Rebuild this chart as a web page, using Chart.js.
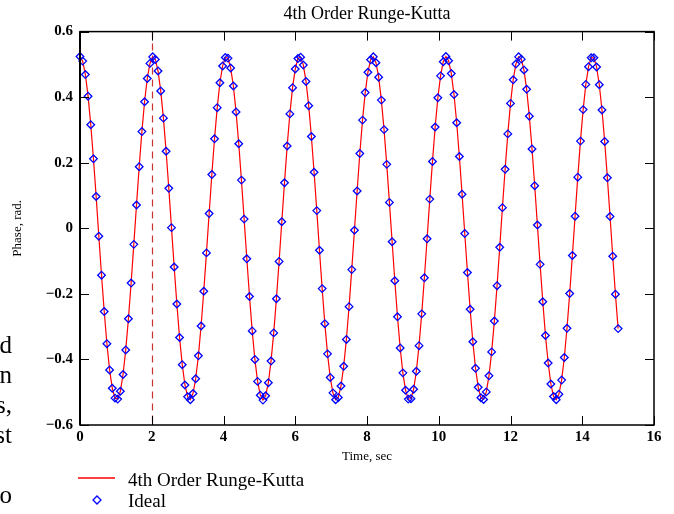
<!DOCTYPE html>
<html><head><meta charset="utf-8">
<script src="https://cdn.jsdelivr.net/npm/chart.js@4.4.1/dist/chart.umd.min.js"></script>
<style>
html,body{margin:0;padding:0;background:#fff;}
#wrap{position:relative;width:674px;height:514px;overflow:hidden;background:#fff;}
canvas{position:absolute;left:0;top:0;}
.frag{position:absolute;right:662px;top:330px;text-align:right;font:25px/30px 'Liberation Serif',serif;white-space:pre;color:#000;}
.leg{position:absolute;font:19px/1 'Liberation Serif',serif;color:#000;white-space:nowrap;}
</style></head><body>
<div id="wrap">
<canvas id="c" width="674" height="514"></canvas>
<div class="frag">d
n
s,
st

o</div>
<svg style="position:absolute;left:76px;top:474px" width="42" height="8"><line x1="2" y1="4" x2="39" y2="4" stroke="#ff0000" stroke-width="1.5"/></svg>
<div class="leg" id="leg1" style="left:128px;top:470px;"></div>
<svg style="position:absolute;left:92px;top:495px" width="10" height="10"><polygon points="5,1 9,5 5,9 1,5" fill="none" stroke="#0000ff" stroke-width="1.3"/></svg>
<div class="leg" id="leg2" style="left:128px;top:491px;"></div>
</div>
<script>
const titleText = '4th Order Runge-Kutta';
const seriesNames = ['4th Order Runge-Kutta', 'Ideal'];
const xTitle = 'Time, sec';
const yTitle = 'Phase, rad.';
const markerTime = 2;

const times = [
0,0.075,0.15,0.225,0.3,0.375,0.45,0.525,0.6,0.675,0.75,0.825,0.9,0.975,1.05,1.125,1.2,1.275,1.35,1.425,
1.5,1.575,1.65,1.725,1.8,1.875,1.95,2.025,2.1,2.175,2.25,2.325,2.4,2.475,2.55,2.625,2.7,2.775,2.85,2.925,
3,3.075,3.15,3.225,3.3,3.375,3.45,3.525,3.6,3.675,3.75,3.825,3.9,3.975,4.05,4.125,4.2,4.275,4.35,4.425,
4.5,4.575,4.65,4.725,4.8,4.875,4.95,5.025,5.1,5.175,5.25,5.325,5.4,5.475,5.55,5.625,5.7,5.775,5.85,5.925,
6,6.075,6.15,6.225,6.3,6.375,6.45,6.525,6.6,6.675,6.75,6.825,6.9,6.975,7.05,7.125,7.2,7.275,7.35,7.425,
7.5,7.575,7.65,7.725,7.8,7.875,7.95,8.025,8.1,8.175,8.25,8.325,8.4,8.475,8.55,8.625,8.7,8.775,8.85,8.925,
9,9.075,9.15,9.225,9.3,9.375,9.45,9.525,9.6,9.675,9.75,9.825,9.9,9.975,10.05,10.125,10.2,10.275,10.35,10.425,
10.5,10.575,10.65,10.725,10.8,10.875,10.95,11.025,11.1,11.175,11.25,11.325,11.4,11.475,11.55,11.625,11.7,11.775,11.85,11.925,
12,12.075,12.15,12.225,12.3,12.375,12.45,12.525,12.6,12.675,12.75,12.825,12.9,12.975,13.05,13.125,13.2,13.275,13.35,13.425,
13.5,13.575,13.65,13.725,13.8,13.875,13.95,14.025,14.1,14.175,14.25,14.325,14.4,14.475,14.55,14.625,14.7,14.775,14.85,14.925,
15];

const phase = [
0.524,0.510,0.469,0.403,0.316,0.212,0.097,-0.024,-0.143,-0.254,-0.352,-0.432,-0.488,-0.518,-0.521,-0.497,-0.446,-0.371,-0.276,-0.167,
-0.049,0.071,0.188,0.295,0.386,0.457,0.503,0.523,0.515,0.480,0.419,0.336,0.235,0.122,0.002,-0.118,-0.231,-0.333,-0.416,-0.478,
-0.514,-0.523,-0.504,-0.459,-0.389,-0.298,-0.192,-0.075,0.045,0.164,0.273,0.368,0.444,0.495,0.521,0.519,0.489,0.434,0.355,0.258,
0.147,0.028,-0.093,-0.208,-0.313,-0.400,-0.467,-0.509,-0.524,-0.511,-0.471,-0.405,-0.319,-0.215,-0.101,0.020,0.139,0.251,0.349,0.429,
0.486,0.518,0.522,0.498,0.448,0.374,0.280,0.171,0.054,-0.067,-0.184,-0.291,-0.383,-0.455,-0.502,-0.523,-0.516,-0.481,-0.421,-0.339,
-0.239,-0.126,-0.006,0.114,0.228,0.330,0.414,0.476,0.514,0.523,0.505,0.461,0.391,0.301,0.195,0.079,-0.041,-0.160,-0.270,-0.365,
-0.441,-0.494,-0.521,-0.520,-0.491,-0.436,-0.358,-0.261,-0.151,-0.032,0.089,0.204,0.309,0.398,0.465,0.508,0.524,0.511,0.472,0.408,
0.322,0.219,0.104,-0.016,-0.135,-0.247,-0.346,-0.427,-0.485,-0.517,-0.522,-0.499,-0.450,-0.377,-0.283,-0.175,-0.058,0.063,0.180,0.288,
0.381,0.453,0.501,0.523,0.516,0.483,0.424,0.342,0.242,0.130,0.010,-0.110,-0.224,-0.327,-0.411,-0.475,-0.513,-0.523,-0.506,-0.463,
-0.394,-0.305,-0.199,-0.083,0.037,0.156,0.266,0.362,0.439,0.493,0.520,0.520,0.492,0.438,0.361,0.265,0.154,0.036,-0.085,-0.201,
-0.306];

document.getElementById('leg1').textContent = seriesNames[0];
document.getElementById('leg2').textContent = seriesNames[1];

const FAM = "'Liberation Serif', 'Times New Roman', serif";
const pts = times.map((t, i) => ({x: t, y: phase[i]}));

const framePlugin = {
  id: 'frame',
  beforeDatasetsDraw(chart) {
    const {ctx, chartArea: a, scales: {x}} = chart;
    const px = Math.round(x.getPixelForValue(markerTime)) + 0.5;
    ctx.save();
    ctx.strokeStyle = '#cc3333';
    ctx.lineWidth = 1.2;
    ctx.setLineDash([7, 5]);
    ctx.beginPath(); ctx.moveTo(px, a.top); ctx.lineTo(px, a.bottom); ctx.stroke();
    ctx.restore();
  },
  afterDraw(chart) {
    const {ctx, chartArea: a, scales: {x, y}} = chart;
    const L = 9;
    ctx.save();
    ctx.strokeStyle = '#000';
    ctx.lineWidth = 1;
    ctx.beginPath();
    x.ticks.forEach(t => {
      const p = Math.round(x.getPixelForValue(t.value)) + 0.5;
      ctx.moveTo(p, a.bottom); ctx.lineTo(p, a.bottom - L);
      ctx.moveTo(p, a.top); ctx.lineTo(p, a.top + L);
    });
    y.ticks.forEach(t => {
      const p = Math.round(y.getPixelForValue(t.value)) + 0.5;
      ctx.moveTo(a.left, p); ctx.lineTo(a.left + L, p);
      ctx.moveTo(a.right, p); ctx.lineTo(a.right - L, p);
    });
    ctx.stroke();
    ctx.lineWidth = 1.5;
    ctx.strokeRect(a.left, a.top, a.right - a.left, a.bottom - a.top);
    ctx.lineWidth = 2;
    ctx.beginPath(); ctx.moveTo(a.left, a.top); ctx.lineTo(a.left, a.bottom); ctx.stroke();
    ctx.restore();
  }
};

new Chart(document.getElementById('c'), {
  type: 'line',
  data: {
    datasets: [
      {
        label: seriesNames[0], data: pts,
        borderColor: '#ff0000', borderWidth: 1.2, pointRadius: 0, tension: 0, fill: false, clip: false, order: 2
      },
      {
        label: seriesNames[1], data: pts, showLine: false,
        pointStyle: 'rectRot', pointRadius: 3.8, pointBorderWidth: 1.3,
        pointBorderColor: '#0000ff', pointBackgroundColor: 'rgba(0,0,0,0)', clip: false, order: 1
      }
    ]
  },
  options: {
    responsive: false, animation: false, devicePixelRatio: 1,
    layout: {padding: {left: 0, right: 20, top: 0, bottom: 47}},
    plugins: {
      legend: {display: false},
      tooltip: {enabled: false},
      title: {display: true, text: titleText, fullSize: false, color: '#000',
        font: {family: FAM, size: 18, weight: 'normal'}, padding: {top: 3, bottom: 7}}
    },
    scales: {
      x: {
        type: 'linear', min: 0, max: 16,
        ticks: {stepSize: 2, padding: 3, color: '#000', font: {family: FAM, size: 15, weight: 'bold'}},
        grid: {display: false, drawTicks: false}, border: {display: false},
        title: {display: true, text: xTitle, color: '#000', font: {family: FAM, size: 13}, padding: {top: 0, bottom: 3}},
        afterFit(s) { s.height = 42; }
      },
      y: {
        type: 'linear', min: -0.6, max: 0.6,
        ticks: {stepSize: 0.2, padding: 7, color: '#000', font: {family: FAM, size: 15, weight: 'bold'},
          callback: v => { const r = Math.round(v * 10) / 10; if (r === 0) return '0'; return r < 0 ? '\u2212' + Math.abs(r).toFixed(1) : r.toFixed(1); }},
        grid: {display: false, drawTicks: false}, border: {display: false},
        title: {display: true, text: yTitle, color: '#000', font: {family: FAM, size: 13}, padding: {top: 10, bottom: 0}},
        afterFit(s) { s.width = 80; }
      }
    }
  },
  plugins: [framePlugin]
});
</script>
</body></html>
